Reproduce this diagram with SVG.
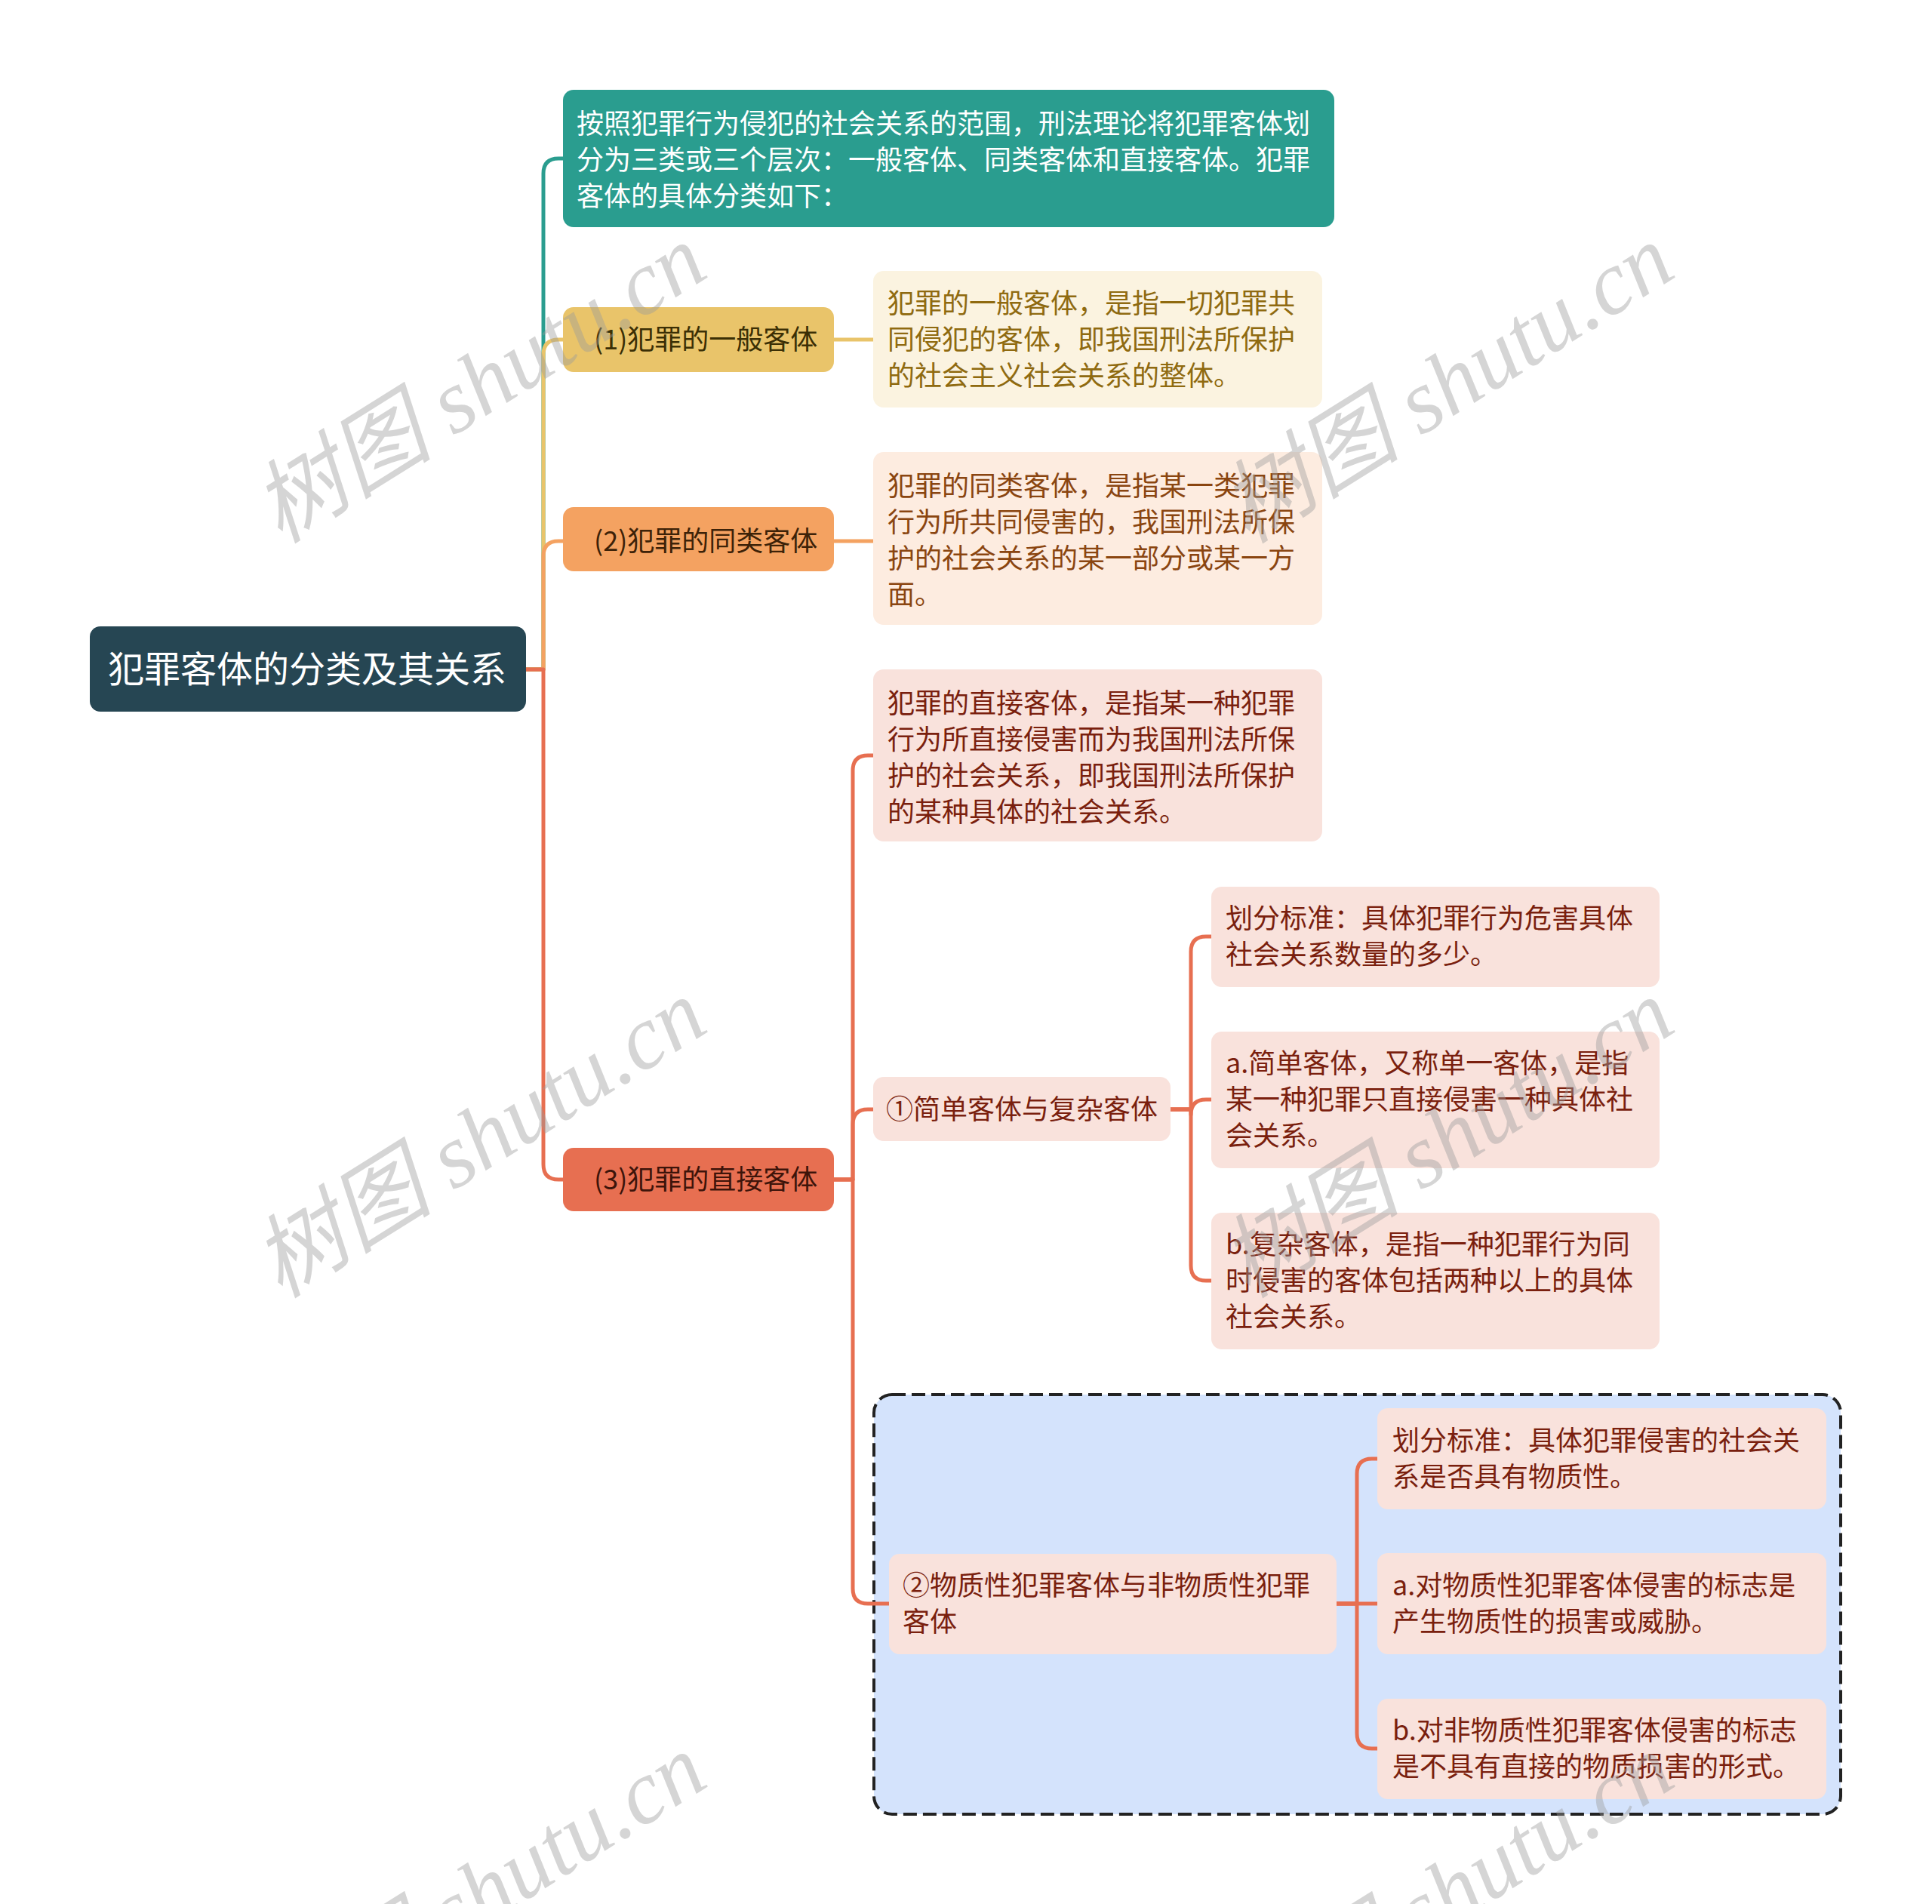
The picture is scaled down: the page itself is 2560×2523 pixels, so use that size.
<svg xmlns="http://www.w3.org/2000/svg" width="2560" height="2523" viewBox="0 0 2560 2523">
<style>
text{font-family:"Noto Sans CJK SC","Noto Sans",sans-serif;font-size:36px}
.root{fill:#fff;font-size:48px}
.wh{fill:#fff}
.c path{fill:none;stroke-width:5;stroke-linecap:round;stroke-linejoin:round}
.ty{fill:#3b2f05}.to{fill:#3d2208}.tr{fill:#3d140a}
.dy{fill:#8f6a10}.do{fill:#8a4510}.dr{fill:#7a1f0e}
.wm{font-family:"Liberation Serif","Noto Sans CJK SC",serif;font-style:italic;font-size:120px;fill:#9a9a9a;fill-opacity:0.42}
</style>
<rect width="2560" height="2523" fill="#fff"/>
<g id="group-box"><rect x="1158" y="1848" width="1281" height="556" rx="24" fill="#d4e3fc" stroke="#222" stroke-width="4" stroke-dasharray="18 8"/></g>
<g id="connectors" class="c">
<path d="M697 887H720V230Q720 210 740 210H747" stroke="#2a9d8f"/>
<path d="M697 887H720V470Q720 450 740 450H747" stroke="#e9c46a"/>
<path d="M697 887H720V737Q720 717 740 717H747" stroke="#f4a261"/>
<path d="M697 887H720V1543Q720 1563 740 1563H747" stroke="#e76f51"/>
<path d="M1105 450H1157" stroke="#e9c46a"/>
<path d="M1105 717H1157" stroke="#f4a261"/>
<path d="M1105 1563H1130V1021Q1130 1001 1150 1001H1157" stroke="#e76f51"/>
<path d="M1105 1563H1130V1490Q1130 1470 1150 1470H1157" stroke="#e76f51"/>
<path d="M1105 1563H1130V2105Q1130 2125 1150 2125H1178" stroke="#e76f51"/>
<path d="M1551 1470H1578V1261Q1578 1241 1598 1241H1605" stroke="#e76f51"/>
<path d="M1551 1470H1578V1477Q1578 1457 1598 1457H1605" stroke="#e76f51"/>
<path d="M1551 1470H1578V1677Q1578 1697 1598 1697H1605" stroke="#e76f51"/>
<path d="M1771 2125H1798V1953Q1798 1933 1818 1933H1825" stroke="#e76f51"/>
<path d="M1771 2125H1825" stroke="#e76f51"/>
<path d="M1771 2125H1798V2297Q1798 2317 1818 2317H1825" stroke="#e76f51"/>
</g>
<g id="root"><rect x="119" y="830" width="578" height="113" rx="14" fill="#264653"/><text class="root" x="143" y="904">犯罪客体的分类及其关系</text></g>
<g id="intro"><rect x="746" y="119" width="1022" height="182" rx="14" fill="#2a9d8f"/>
<text class="wh" x="764" y="177">按照犯罪行为侵犯的社会关系的范围，刑法理论将犯罪客体划</text>
<text class="wh" x="764" y="225">分为三类或三个层次：一般客体、同类客体和直接客体。犯罪</text>
<text class="wh" x="764" y="273">客体的具体分类如下：</text></g>
<g id="n1"><rect x="746" y="407" width="359" height="86" rx="14" fill="#e9c46a"/><text class="ty" x="787" y="463">(1)犯罪的一般客体</text></g>
<g id="d1"><rect x="1157" y="359" width="595" height="181" rx="14" fill="#fbf3e0"/>
<text class="dy" x="1176" y="415">犯罪的一般客体，是指一切犯罪共</text>
<text class="dy" x="1176" y="463">同侵犯的客体，即我国刑法所保护</text>
<text class="dy" x="1176" y="511">的社会主义社会关系的整体。</text></g>
<g id="n2"><rect x="746" y="672" width="359" height="85" rx="14" fill="#f4a261"/><text class="to" x="787" y="730">(2)犯罪的同类客体</text></g>
<g id="d2"><rect x="1157" y="599" width="595" height="229" rx="14" fill="#fdece0"/>
<text class="do" x="1176" y="657">犯罪的同类客体，是指某一类犯罪</text>
<text class="do" x="1176" y="705">行为所共同侵害的，我国刑法所保</text>
<text class="do" x="1176" y="753">护的社会关系的某一部分或某一方</text>
<text class="do" x="1176" y="801">面。</text></g>
<g id="n3"><rect x="746" y="1521" width="359" height="84" rx="14" fill="#e76f51"/><text class="tr" x="787" y="1576">(3)犯罪的直接客体</text></g>
<g id="d3"><rect x="1157" y="887" width="595" height="228" rx="14" fill="#f9e2dc"/>
<text class="dr" x="1176" y="945">犯罪的直接客体，是指某一种犯罪</text>
<text class="dr" x="1176" y="993">行为所直接侵害而为我国刑法所保</text>
<text class="dr" x="1176" y="1041">护的社会关系，即我国刑法所保护</text>
<text class="dr" x="1176" y="1089">的某种具体的社会关系。</text></g>
<g id="s1"><rect x="1157" y="1427" width="394" height="85" rx="14" fill="#f9e2dc"/><text class="dr" x="1174" y="1483">①简单客体与复杂客体</text></g>
<g id="s1a"><rect x="1605" y="1175" width="594" height="133" rx="14" fill="#f9e2dc"/>
<text class="dr" x="1624" y="1230">划分标准：具体犯罪行为危害具体</text>
<text class="dr" x="1624" y="1278">社会关系数量的多少。</text></g>
<g id="s1b"><rect x="1605" y="1367" width="594" height="181" rx="14" fill="#f9e2dc"/>
<text class="dr" x="1624" y="1422">a.简单客体，又称单一客体，是指</text>
<text class="dr" x="1624" y="1470">某一种犯罪只直接侵害一种具体社</text>
<text class="dr" x="1624" y="1518">会关系。</text></g>
<g id="s1c"><rect x="1605" y="1607" width="594" height="181" rx="14" fill="#f9e2dc"/>
<text class="dr" x="1624" y="1662">b.复杂客体，是指一种犯罪行为同</text>
<text class="dr" x="1624" y="1710">时侵害的客体包括两种以上的具体</text>
<text class="dr" x="1624" y="1758">社会关系。</text></g>
<g id="s2"><rect x="1178" y="2059" width="593" height="133" rx="14" fill="#f9e2dc"/>
<text class="dr" x="1196" y="2114">②物质性犯罪客体与非物质性犯罪</text>
<text class="dr" x="1196" y="2162">客体</text></g>
<g id="s2a"><rect x="1825" y="1866" width="595" height="134" rx="14" fill="#f9e2dc"/>
<text class="dr" x="1845" y="1922">划分标准：具体犯罪侵害的社会关</text>
<text class="dr" x="1845" y="1970">系是否具有物质性。</text></g>
<g id="s2b"><rect x="1825" y="2058" width="595" height="134" rx="14" fill="#f9e2dc"/>
<text class="dr" x="1845" y="2114">a.对物质性犯罪客体侵害的标志是</text>
<text class="dr" x="1845" y="2162">产生物质性的损害或威胁。</text></g>
<g id="s2c"><rect x="1825" y="2251" width="595" height="133" rx="14" fill="#f9e2dc"/>
<text class="dr" x="1845" y="2306">b.对非物质性犯罪客体侵害的标志</text>
<text class="dr" x="1845" y="2354">是不具有直接的物质损害的形式。</text></g>
<g id="watermarks">
<text class="wm" text-anchor="middle" transform="translate(657 543) rotate(-32)">树图 shutu.cn</text>
<text class="wm" text-anchor="middle" transform="translate(1939 543) rotate(-32)">树图 shutu.cn</text>
<text class="wm" text-anchor="middle" transform="translate(657 1543) rotate(-32)">树图 shutu.cn</text>
<text class="wm" text-anchor="middle" transform="translate(1939 1543) rotate(-32)">树图 shutu.cn</text>
<text class="wm" text-anchor="middle" transform="translate(657 2543) rotate(-32)">树图 shutu.cn</text>
<text class="wm" text-anchor="middle" transform="translate(1939 2543) rotate(-32)">树图 shutu.cn</text>
</g>
</svg>
